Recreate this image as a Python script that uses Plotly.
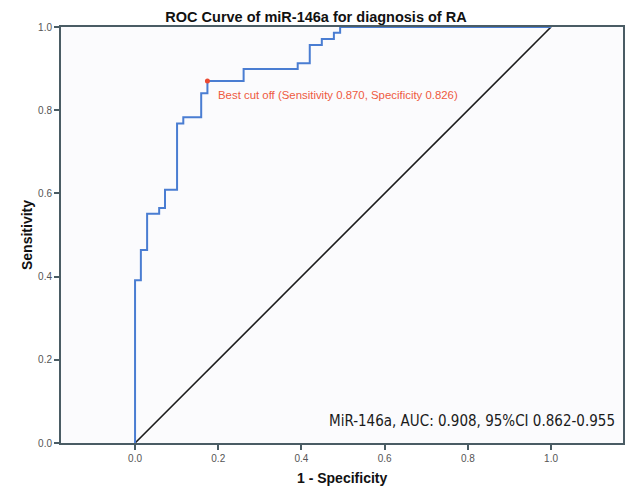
import plotly.graph_objects as go

# ROC curve for miR-146a: step levels (sensitivity) and where each level ends (1 - specificity)
fpr = [0.0, 0.014, 0.029, 0.058, 0.072, 0.101, 0.116, 0.159, 0.174, 0.261,
       0.391, 0.420, 0.449, 0.478, 0.493, 1.0]
tpr = [0.0, 0.391, 0.464, 0.551, 0.565, 0.609, 0.768, 0.783, 0.841, 0.870,
       0.899, 0.913, 0.957, 0.971, 0.986, 1.0]

# Reference line
ref_x = [0.0, 1.0]
ref_y = [0.0, 1.0]

# Optimal cut-off point
cut_sens = 0.870
cut_spec = 0.826

auc_text = "MiR-146a, AUC: 0.908, 95%CI 0.862-0.955"
tick_vals = [0.0, 0.2, 0.4, 0.6, 0.8, 1.0]
tick_text = ["0.0", "0.2", "0.4", "0.6", "0.8", "1.0"]

FONT = "Liberation Sans, Arial, sans-serif"
NARROW = "Liberation Sans Narrow, DejaVu Sans Condensed, Liberation Sans, sans-serif"
FRAME = "#4a5c64"

fig = go.Figure()

fig.add_trace(go.Scatter(
    x=ref_x, y=ref_y, mode="lines",
    line=dict(color="#1c1c1c", width=1.6),
    hoverinfo="skip", showlegend=False,
))

fig.add_trace(go.Scatter(
    x=fpr, y=tpr, mode="lines", line_shape="vh",
    line=dict(color="#4a7dd2", width=2),
    showlegend=False,
))

fig.add_trace(go.Scatter(
    x=[1 - cut_spec], y=[cut_sens], mode="markers",
    marker=dict(color="#ec4a32", size=5),
    showlegend=False,
))

fig.add_annotation(
    x=1 - cut_spec, y=cut_sens, xref="x", yref="y",
    text=f"Best cut off (Sensitivity {cut_sens:.3f}, Specificity {cut_spec:.3f})",
    showarrow=False, xanchor="left", yanchor="middle",
    xshift=9, yshift=-14,
    font=dict(family=FONT, size=11.4, color="#ee5a3f"),
)

fig.add_annotation(
    x=1, y=0, xref="paper", yref="paper",
    text=auc_text, showarrow=False,
    xanchor="right", yanchor="bottom", xshift=-6, yshift=11,
    font=dict(family=NARROW, size=15, color="#1a1a1a"),
)

# Axis titles placed in the margins
fig.add_annotation(
    x=0.5, y=0, xref="paper", yref="paper",
    text="<b>1 - Specificity</b>", showarrow=False,
    xanchor="center", yanchor="middle", yshift=-35,
    font=dict(family=FONT, size=14, color="#111111"),
)
fig.add_annotation(
    x=0, y=0.5, xref="paper", yref="paper",
    text="<b>Sensitivity</b>", showarrow=False, textangle=-90,
    xanchor="center", yanchor="middle", xshift=-34,
    font=dict(family=FONT, size=14, color="#111111"),
)

fig.update_layout(
    width=632, height=490,
    margin=dict(l=61, r=9, t=27, b=47),
    paper_bgcolor="#ffffff",
    plot_bgcolor="#fbfbfd",
    title=dict(
        text="<b>ROC Curve of miR-146a for diagnosis of RA</b>",
        x=0.5, xanchor="center", y=0.966, yanchor="middle",
        font=dict(family=FONT, size=14.5, color="#111111"),
    ),
    xaxis=dict(
        range=[-0.178, 1.173], automargin=False,
        tickvals=tick_vals, ticktext=tick_text,
        ticks="outside", ticklen=5, tickwidth=2, tickcolor=FRAME,
        tickfont=dict(family=FONT, size=10, color="#555555"),
        showgrid=False, zeroline=False,
        showline=True, linecolor=FRAME, linewidth=2, mirror=True,
    ),
    yaxis=dict(
        range=[0, 1], automargin=False,
        tickvals=tick_vals, ticktext=tick_text,
        ticks="outside", ticklen=5, tickwidth=2, tickcolor=FRAME,
        tickfont=dict(family=FONT, size=10, color="#555555"),
        showgrid=False, zeroline=False,
        showline=True, linecolor=FRAME, linewidth=2, mirror=True,
    ),
)

fig.write_html("out.html")
